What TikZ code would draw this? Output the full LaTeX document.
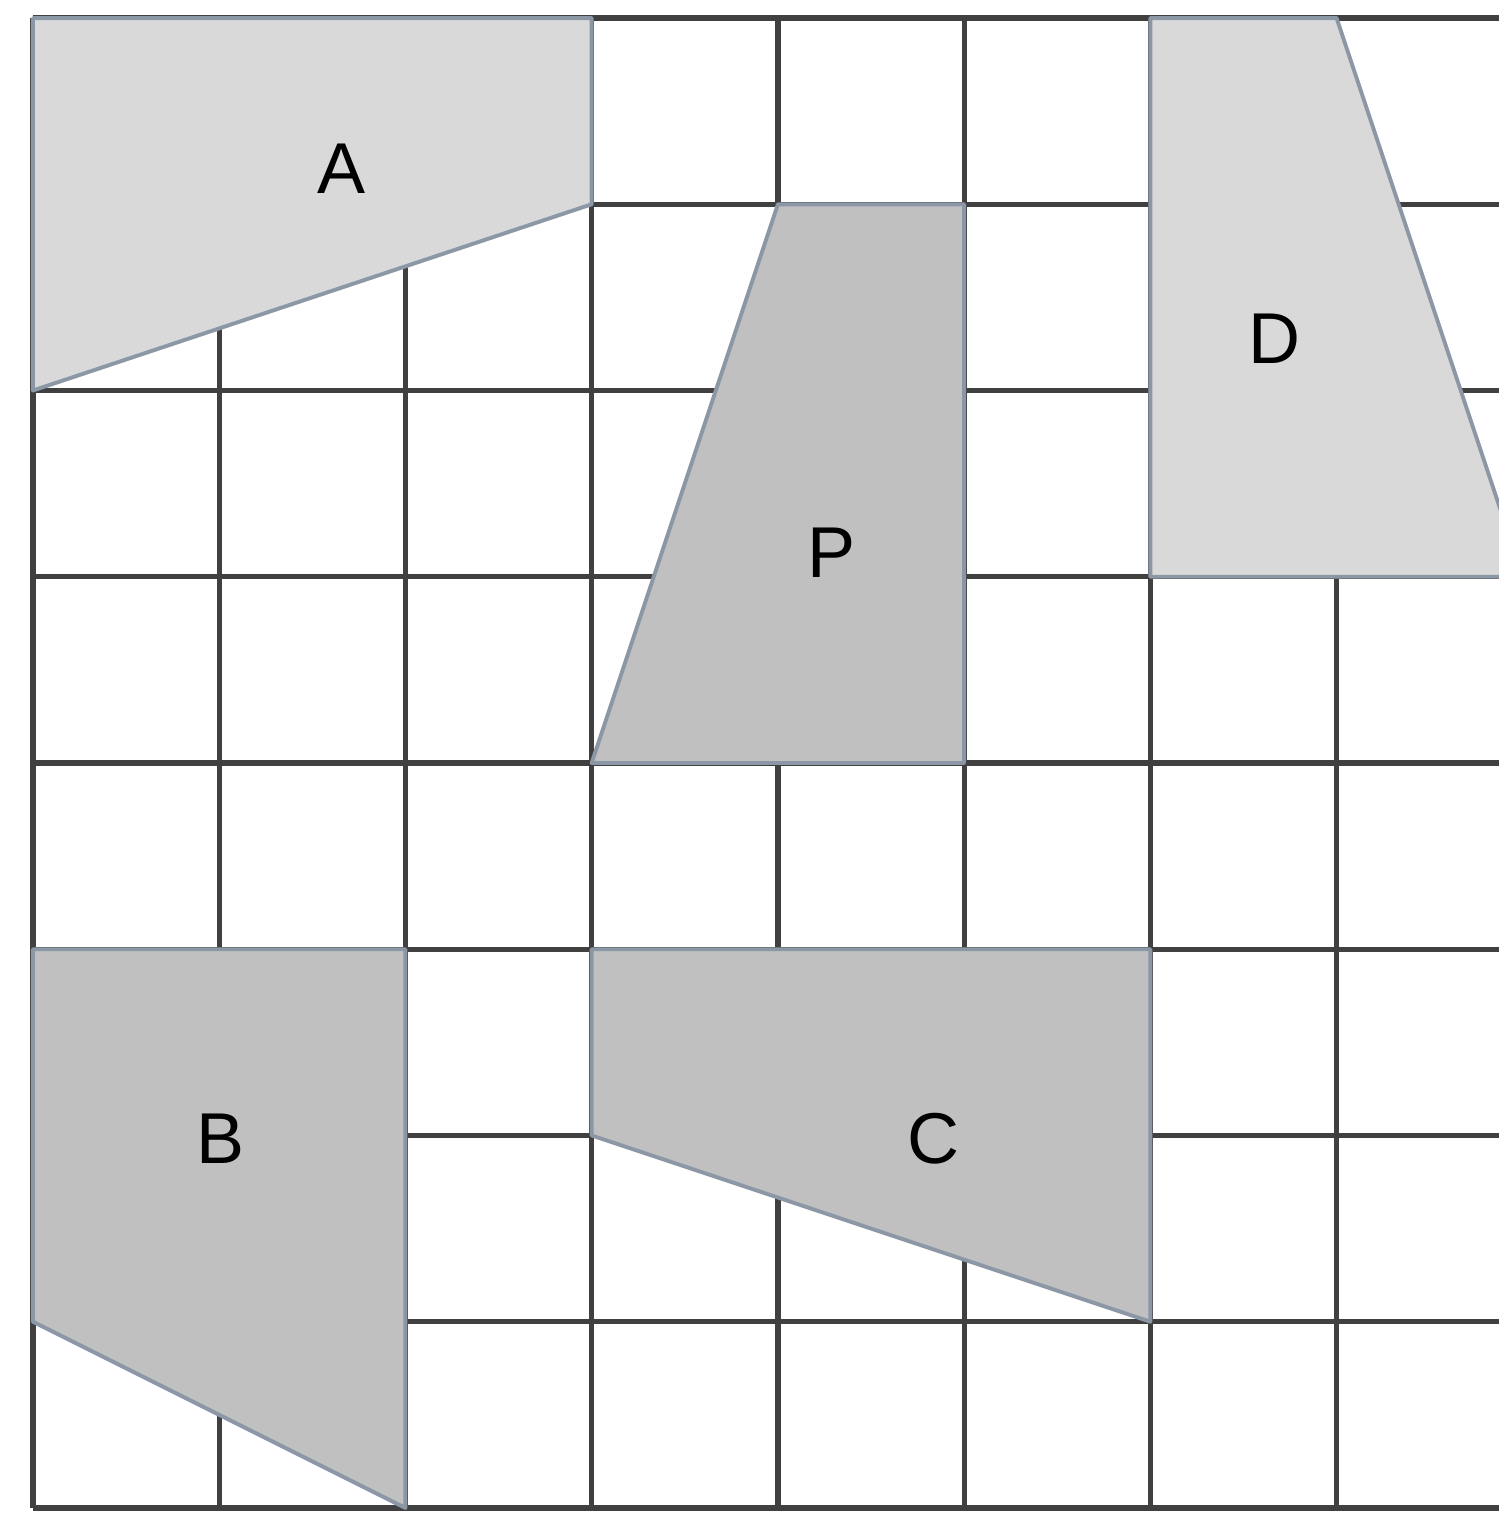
\documentclass[tikz,border=0pt]{standalone}
\usepackage{fontspec}
\setmainfont{Liberation Sans}
\usepackage{tikz}
\usetikzlibrary{positioning}

\definecolor{gridgray}{HTML}{404040}
\definecolor{edgeblue}{HTML}{8C97A6}
\definecolor{lightfill}{HTML}{D9D9D9}
\definecolor{darkfill}{HTML}{C0C0C0}

\tikzset{
  gridline/.style={draw=gridgray, line width=0.8pt},
  lightpiece/.style={fill=lightfill, draw=edgeblue, line width=0.6pt, line join=round},
  darkpiece/.style={fill=darkfill, draw=edgeblue, line width=0.6pt, line join=round},
  piecelabel/.style={font=\fontsize{11}{13}\selectfont, inner sep=0pt}
}

\begin{document}
\begin{tikzpicture}
        \useasboundingbox (-0.177,-0.038) rectangle (7.871,8.097);
        \clip (-0.177,-0.038) rectangle (7.871,8.097);

        % square grid
        \foreach \i in {0,...,8} {
            \draw[gridline] (\i,0) -- (\i,8);
            \draw[gridline] (0,\i) -- (8,\i);
        }

        % pieces
        \draw[lightpiece] (0,8) -- (3,8) -- (3,7) -- (0,6) -- cycle;
        \draw[darkpiece] (4,7) -- (5,7) -- (5,4) -- (3,4) -- cycle;
        \draw[lightpiece] (6,8) -- (7,8) -- (8,5) -- (6,5) -- cycle;
        \draw[darkpiece] (0,3) -- (2,3) -- (2,0) -- (0,1) -- cycle;
        \draw[darkpiece] (3,3) -- (6,3) -- (6,1) -- (3,2) -- cycle;

        % labels
        \node[piecelabel] (labA) at (1.655, 7.19) {A};
        \node[piecelabel] (labP) at (4.286, 5.13) {P};
        \node[piecelabel] (labD) at (6.668, 6.28) {D};
        \node[piecelabel] (labB) at (1.008, 1.98) {B};
        \node[piecelabel] (labC) at (4.836, 1.98) {C};
    \end{tikzpicture}
\end{document}
